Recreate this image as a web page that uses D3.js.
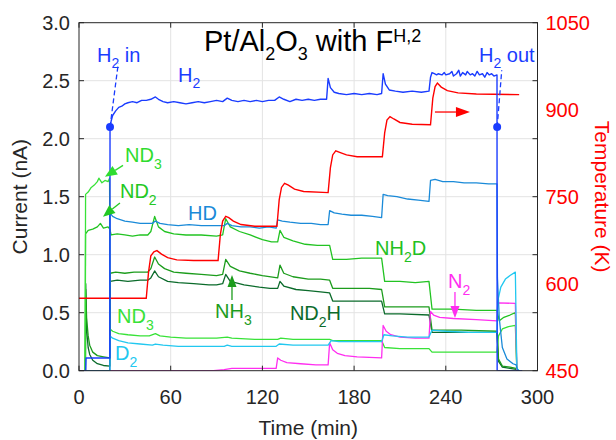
<!DOCTYPE html>
<html>
<head>
<meta charset="utf-8">
<script src="https://cdn.jsdelivr.net/npm/d3@7"></script>
<style>
body{margin:0;background:#fff}
svg{display:block;font-family:"Liberation Sans",Arial,sans-serif}
</style>
</head>
<body>
<script>
// ---- data: [time (min), current (nA)] ----
const h2 = [[0,0],[4.4,0],[4.6,0.11],[20.2,0.11],[20.3,2.1],[21,2.15],[22,2.2],[24,2.24],[26,2.27],[28,2.28],[30,2.3],[32,2.31],[35,2.32],[38,2.31],[41,2.33],[44,2.33],[47,2.34],[50,2.36],[52,2.34],[55,2.32],[58,2.31],[62,2.32],[66,2.31],[70,2.3],[74,2.31],[78,2.32],[82,2.31],[86,2.32],[90,2.33],[94,2.32],[97,2.35],[100,2.33],[104,2.32],[108,2.33],[112,2.32],[116,2.33],[120,2.32],[124,2.33],[128,2.33],[131,2.36],[134,2.34],[138,2.32],[142,2.34],[146,2.33],[150,2.34],[154,2.33],[158,2.34],[162,2.34],[163,2.52],[164.5,2.44],[167,2.4],[170,2.39],[175,2.38],[180,2.39],[185,2.38],[190,2.39],[195,2.38],[198,2.39],[199,2.56],[200.5,2.47],[203,2.42],[207,2.41],[212,2.4],[218,2.41],[224,2.4],[229,2.41],[230,2.53],[231,2.57],[232.5,2.56],[234,2.55],[235,2.56],[237.5,2.55],[239,2.57],[240,2.55],[242.5,2.56],[244,2.58],[245,2.54],[247,2.56],[248.5,2.59],[249.5,2.54],[251,2.57],[253,2.55],[254,2.58],[256,2.55],[257.5,2.56],[259,2.54],[260.5,2.58],[262,2.55],[264,2.56],[265.5,2.53],[267,2.57],[268.5,2.55],[270,2.56],[271.5,2.54],[273.5,2.55],[273.6,0],[290,0]];
const hd = [[0,0],[20.2,0],[20.3,1.36],[22,1.33],[25,1.31],[30,1.29],[35,1.28],[40,1.27],[45,1.27],[48,1.27],[50,1.29],[53,1.27],[58,1.26],[65,1.25],[72,1.26],[80,1.25],[88,1.25],[95,1.25],[97,1.27],[100,1.25],[106,1.24],[112,1.24],[118,1.23],[124,1.24],[129,1.23],[130,1.3],[133,1.29],[138,1.28],[145,1.27],[152,1.27],[158,1.26],[163,1.26],[164,1.38],[167,1.36],[172,1.35],[178,1.34],[185,1.34],[192,1.33],[198,1.32],[199,1.52],[202,1.51],[208,1.5],[215,1.48],[222,1.47],[229,1.46],[230,1.64],[233,1.65],[238,1.63],[245,1.63],[252,1.62],[260,1.62],[268,1.61],[273.5,1.61],[273.8,0.8],[275,0.45],[277,0.2],[280,0.1],[284,0.06],[286,0.05],[287,0],[288,0]];
const d2 = [[0,0],[20.2,0],[20.3,0.3],[22,0.28],[26,0.26],[32,0.24],[40,0.23],[48,0.22],[50,0.23],[55,0.22],[65,0.21],[80,0.21],[95,0.21],[97,0.22],[100,0.21],[115,0.21],[129,0.21],[131,0.23],[140,0.22],[155,0.22],[163,0.22],[165,0.26],[170,0.25],[185,0.25],[198,0.25],[199.5,0.31],[205,0.3],[215,0.29],[229,0.29],[231,0.35],[240,0.34],[255,0.33],[273.5,0.33],[274,0.6],[276,0.72],[279,0.79],[282,0.82],[285.5,0.85],[286.5,0.02],[288,0]];
const n2 = [[0,0],[88,0],[95,0.01],[100,0.02],[129,0.02],[130,0.11],[132,0.09],[136,0.07],[145,0.06],[155,0.05],[163,0.05],[164,0.24],[166,0.18],[169,0.15],[174,0.13],[182,0.12],[198,0.11],[199,0.39],[201,0.34],[204,0.31],[210,0.29],[220,0.28],[229,0.28],[230,0.51],[232,0.48],[236,0.46],[245,0.45],[260,0.44],[273.5,0.43],[274,0.585],[285.5,0.58],[286.5,0],[288,0]];
const nd3 = [[0,0],[4,0],[4.3,1.52],[6,1.54],[8,1.58],[10,1.6],[12,1.63],[13,1.66],[15,1.62],[17,1.64],[19,1.63],[20,1.66],[20.3,0.36],[22,0.34],[26,0.32],[32,0.31],[40,0.3],[46,0.3],[50,0.32],[53,0.3],[60,0.29],[70,0.28],[80,0.28],[90,0.28],[97,0.29],[100,0.28],[115,0.27],[130,0.27],[132,0.28],[140,0.27],[155,0.27],[164,0.27],[166,0.26],[180,0.26],[198,0.26],[200,0.2],[210,0.19],[229,0.19],[231,0.16],[250,0.16],[273.5,0.16],[274.5,0.3],[277,0.36],[281,0.38],[285.5,0.39],[286.5,0],[288,0]];
const nh2d = [[0,0],[4,0],[4.3,1.18],[6,1.21],[9,1.22],[12,1.24],[14,1.27],[16,1.23],[19,1.24],[20.2,1.22],[21,1.17],[25,1.18],[30,1.17],[35,1.16],[40,1.17],[45,1.17],[47,1.2],[49.5,1.33],[52,1.24],[56,1.2],[62,1.18],[70,1.17],[80,1.17],[90,1.16],[94,1.17],[96,1.31],[99,1.24],[105,1.2],[112,1.17],[120,1.13],[126,1.11],[130,1.11],[131.5,1.21],[134,1.15],[140,1.12],[148,1.09],[156,1.08],[164,1.08],[166,0.96],[175,0.96],[185,0.97],[198,0.97],[200,0.77],[210,0.77],[220,0.76],[229,0.77],[231,0.53],[245,0.53],[260,0.52],[273.5,0.52],[275,0.43],[278,0.46],[282,0.48],[285.5,0.5],[286.5,0],[288,0]];
const nh3 = [[0,0],[4.2,0],[4.4,0.7],[5,0.45],[6,0.3],[7,0.22],[9,0.16],[12,0.13],[16,0.12],[20.2,0.11],[20.4,0.84],[24,0.85],[30,0.84],[36,0.85],[42,0.85],[45,0.85],[47,0.88],[49.5,0.98],[52,0.92],[56,0.88],[62,0.85],[70,0.84],[80,0.83],[90,0.82],[94,0.83],[96,0.96],[99,0.9],[105,0.86],[112,0.84],[120,0.82],[130,0.8],[131.5,0.91],[134,0.84],[140,0.81],[150,0.79],[158,0.79],[164,0.78],[166,0.71],[175,0.71],[190,0.71],[198,0.7],[200,0.55],[210,0.55],[229,0.55],[231,0.35],[250,0.35],[273.5,0.34],[274.5,0.1],[277,0.04],[282,0.03],[286,0.02],[287,0],[288,0]];
const nd2h = [[0,0],[4.2,0],[4.4,0.75],[5,0.35],[6,0.2],[7,0.14],[9,0.09],[12,0.06],[16,0.045],[20.2,0.04],[20.4,0.77],[25,0.78],[32,0.77],[40,0.78],[45,0.78],[47,0.8],[49.5,0.86],[52,0.81],[58,0.77],[65,0.76],[75,0.75],[85,0.74],[90,0.74],[94,0.75],[96,0.83],[99,0.77],[108,0.74],[118,0.72],[125,0.71],[130,0.71],[131.5,0.77],[134,0.73],[142,0.7],[150,0.69],[158,0.68],[164,0.67],[166,0.6],[175,0.6],[190,0.6],[198,0.6],[200,0.49],[210,0.49],[229,0.48],[231,0.33],[250,0.33],[273.5,0.33],[274.5,0.08],[277,0.03],[282,0.02],[287,0.01],[288,0]];
// [time (min), temperature (K)]
const temperature = [[0,575],[44,575],[45.5,620],[47,648],[49,655],[51,657],[54,651],[58,645],[64,641],[75,640],[91,640],[92.5,685],[94,708],[96,716],[98,714],[101,708],[106,702],[115,699],[129.5,699],[131,745],[132.5,766],[134.5,773],[137,770],[141,763],[147,759],[163,757],[164.5,800],[166,822],[168,829],[171,826],[175,822],[182,819],[198.5,819],[200,860],[201.5,882],[203.5,888],[206,884],[210,878],[218,875],[230,874],[231.5,920],[233,940],[234.5,946],[237,939],[241,933],[248,929],[260,927],[288,926]];

const xTicks = [0, 60, 120, 180, 240, 300];
const yTicks = [0, 0.5, 1, 1.5, 2, 2.5, 3];
const tTicks = [450, 600, 750, 900, 1050];

const width = 616, height = 440;
const svg = d3.select("body").append("svg")
  .attr("width", width).attr("height", height);

const x = d3.scaleLinear().domain([0, 300]).range([79, 537.5]);
const y = d3.scaleLinear().domain([0, 3]).range([370.7, 22.7]);
const yT = d3.scaleLinear().domain([450, 1050]).range([370.7, 22.7]);

const axisCol = "#262626";

// grid
svg.append("g").selectAll("line").data(xTicks.slice(1, -1)).join("line")
  .attr("x1", d => x(d)).attr("x2", d => x(d)).attr("y1", y(0)).attr("y2", y(3))
  .attr("stroke", "#e3e3e3").attr("stroke-width", 1);
svg.append("g").selectAll("line").data(yTicks.slice(1, -1)).join("line")
  .attr("y1", d => y(d)).attr("y2", d => y(d)).attr("x1", x(0)).attr("x2", x(300))
  .attr("stroke", "#e3e3e3").attr("stroke-width", 1);

// series
svg.append("clipPath").attr("id", "clip").append("rect")
  .attr("x", x(0)).attr("y", y(3)).attr("width", x(300) - x(0)).attr("height", y(0) - y(3));
const plot = svg.append("g").attr("clip-path", "url(#clip)");
const line = d3.line().x(d => x(d[0])).y(d => y(d[1]));
const lineT = d3.line().x(d => x(d[0])).y(d => yT(d[1]));

const series = [
  {data: nd2h, color: "#0b6b2b"},
  {data: nh3, color: "#1c9c1c"},
  {data: nh2d, color: "#22c322"},
  {data: nd3, color: "#38e238"},
  {data: n2, color: "#ff2ef0"},
  {data: d2, color: "#22c8f0"},
  {data: hd, color: "#1a8ad8"}
];
series.forEach(s => {
  plot.append("path").attr("d", line(s.data)).attr("fill", "none")
    .attr("stroke", s.color).attr("stroke-width", 1.3).attr("stroke-linejoin", "round");
});
plot.append("path").attr("d", lineT(temperature)).attr("fill", "none")
  .attr("stroke", "#ff0000").attr("stroke-width", 1.4);
plot.append("path").attr("d", line(h2)).attr("fill", "none")
  .attr("stroke", "#1a3cff").attr("stroke-width", 1.4).attr("stroke-linejoin", "round");

// H2 in / out markers
const h2Marks = [[20.3, 2.1, 25.7, 2.65], [273.6, 2.1, 276.6, 2.59]];
h2Marks.forEach(m => {
  svg.append("line").attr("x1", x(m[0])).attr("y1", y(m[1])).attr("x2", x(m[2])).attr("y2", y(m[3]))
    .attr("stroke", "#1a3cff").attr("stroke-width", 1.3).attr("stroke-dasharray", "5,3");
  svg.append("circle").attr("cx", x(m[0])).attr("cy", y(m[1])).attr("r", 4).attr("fill", "#1a3cff");
});

// box + ticks
svg.append("rect").attr("x", x(0)).attr("y", y(3)).attr("width", x(300) - x(0)).attr("height", y(0) - y(3))
  .attr("fill", "none").attr("stroke", axisCol).attr("stroke-width", 1);
const tk = svg.append("g").attr("stroke", axisCol).attr("stroke-width", 1);
xTicks.forEach(t => {
  tk.append("line").attr("x1", x(t)).attr("x2", x(t)).attr("y1", y(0)).attr("y2", y(0) - 5);
  tk.append("line").attr("x1", x(t)).attr("x2", x(t)).attr("y1", y(3)).attr("y2", y(3) + 5);
});
yTicks.forEach(v => {
  tk.append("line").attr("x1", x(0)).attr("x2", x(0) + 5).attr("y1", y(v)).attr("y2", y(v));
  tk.append("line").attr("x1", x(300)).attr("x2", x(300) - 5).attr("y1", y(v)).attr("y2", y(v));
});

// tick labels
svg.append("g").selectAll("text").data(yTicks).join("text")
  .attr("x", x(0) - 9).attr("y", d => y(d)).attr("dy", "0.36em")
  .attr("text-anchor", "end").attr("font-size", 20).attr("fill", axisCol)
  .text(d3.format(".1f"));
svg.append("g").selectAll("text").data(xTicks).join("text")
  .attr("x", d => x(d)).attr("y", y(0) + 33)
  .attr("text-anchor", "middle").attr("font-size", 20).attr("fill", axisCol)
  .text(d => d);
svg.append("g").selectAll("text").data(tTicks).join("text")
  .attr("x", x(300) + 8).attr("y", d => yT(d)).attr("dy", "0.36em")
  .attr("font-size", 20).attr("fill", "#ff0000")
  .text(d => d);

// axis titles
svg.append("text").attr("x", (x(0) + x(300)) / 2).attr("y", 435).attr("text-anchor", "middle")
  .attr("font-size", 21).attr("fill", axisCol).text("Time (min)");
svg.append("text").attr("transform", `translate(27,${(y(0) + y(3)) / 2}) rotate(-90)`)
  .attr("text-anchor", "middle").attr("font-size", 21).attr("fill", axisCol).text("Current (nA)");
svg.append("text").attr("transform", `translate(595,${(y(0) + y(3)) / 2}) rotate(90)`)
  .attr("text-anchor", "middle").attr("font-size", 21).attr("fill", "#ff0000").text("Temperature (K)");

// rich text helper: parts = [text, "n" | "sub" | "sup"]
function rich(px, py, parts, color, size, small) {
  const t = svg.append("text").attr("x", px).attr("y", py).attr("font-size", size).attr("fill", color);
  let shift = 0;
  parts.forEach(p => {
    const target = p[1] === "sub" ? size * 0.33 : p[1] === "sup" ? -size * 0.3 : 0;
    t.append("tspan").attr("dy", target - shift)
      .attr("font-size", p[1] === "n" ? size : size * (small || 0.7)).text(p[0]);
    shift = target;
  });
  return t;
}

// title
rich(204, 50.5, [["Pt/Al", "n"], ["2", "sub"], ["O", "n"], ["3", "sub"], [" with F", "n"], ["H,2", "sup"]], "#000", 29, 0.62);

// curve labels [time, current] of baseline start
rich(x(11.8), y(2.664), [["H", "n"], ["2", "sub"], [" in", "n"]], "#1a3cff", 20);
rich(x(64.8), y(2.49), [["H", "n"], ["2", "sub"]], "#1a3cff", 20);
rich(x(261.7), y(2.664), [["H", "n"], ["2", "sub"], [" out", "n"]], "#1a3cff", 20);
rich(x(30.1), y(1.80), [["ND", "n"], ["3", "sub"]], "#2fdc2f", 20);
rich(x(26.8), y(1.489), [["ND", "n"], ["2", "sub"]], "#22c822", 20);
rich(x(71.3), y(1.30), [["HD", "n"]], "#1a8ad8", 20);
rich(x(193.7), y(0.997), [["NH", "n"], ["2", "sub"], ["D", "n"]], "#22c022", 20);
rich(x(241.4), y(0.713), [["N", "n"], ["2", "sub"]], "#ff2ef0", 20);
rich(x(89), y(0.454), [["NH", "n"], ["3", "sub"]], "#1c9c1c", 20);
rich(x(138), y(0.437), [["ND", "n"], ["2", "sub"], ["H", "n"]], "#0b6b2b", 20);
rich(x(24.9), y(0.411), [["ND", "n"], ["3", "sub"]], "#38e238", 20);
rich(x(23.6), y(0.092), [["D", "n"], ["2", "sub"]], "#22c8f0", 20);

// arrows: [x0, y0, x1, y1] in pixels from data coords
function arrow(x0, y0, x1, y1, color, len, half) {
  const dx = x1 - x0, dy = y1 - y0, L = Math.hypot(dx, dy);
  const ux = dx / L, uy = dy / L;
  const bx = x1 - ux * len, by = y1 - uy * len;
  svg.append("line").attr("x1", x0).attr("y1", y0).attr("x2", bx).attr("y2", by)
    .attr("stroke", color).attr("stroke-width", 1.3);
  svg.append("path")
    .attr("d", `M${x1},${y1}L${bx - uy * half},${by + ux * half}L${bx + uy * half},${by - ux * half}Z`)
    .attr("fill", color);
}
arrow(x(28.8), y(1.77), x(17.0), y(1.672), "#2fdc2f", 12, 5);
arrow(x(26.8), y(1.446), x(15.7), y(1.328), "#22c822", 12, 5);
arrow(x(246), y(0.678), x(246), y(0.454), "#ff2ef0", 12, 4.5);
arrow(x(100.1), y(0.609), x(100.1), y(0.825), "#1c9c1c", 12, 4.5);
arrow(x(232.9), yT(896), x(255.8), yT(896), "#ff0000", 14, 5);
</script>
</body>
</html>
